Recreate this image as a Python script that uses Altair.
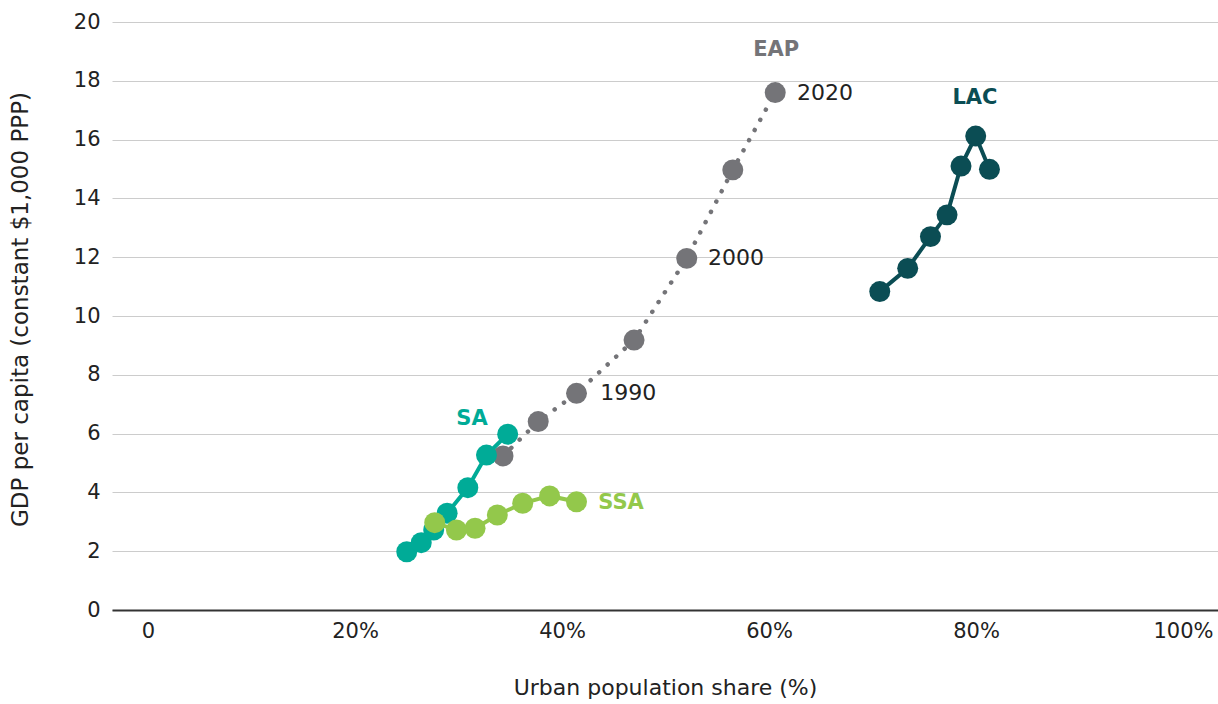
import altair as alt
import pandas as pd

# ---- data ----
sa_x = [25.0, 26.4, 27.6, 28.9, 30.9, 32.7, 34.75]
sa_y = [1.98, 2.29, 2.72, 3.29, 4.16, 5.27, 5.98]

ssa_x = [27.7, 29.8, 31.6, 33.75, 36.2, 38.8, 41.4]
ssa_y = [2.97, 2.72, 2.78, 3.23, 3.63, 3.88, 3.68]

eap_x = [34.3, 37.7, 41.4, 46.96, 52.05, 56.5, 60.6]
eap_y = [5.24, 6.41, 7.37, 9.18, 11.96, 14.97, 17.6]

lac_x = [70.7, 73.4, 75.6, 77.2, 78.55, 79.97, 81.3]
lac_y = [10.83, 11.62, 12.70, 13.44, 15.10, 16.12, 14.99]

series_names = ["EAP", "SA", "SSA", "LAC"]
series_colors = ["#747478", "#00AB97", "#93C84B", "#0B4D54"]

# series labels (data coordinates)
lab_text = ["EAP", "LAC", "SA"]
lab_x = [60.7, 79.9, 31.3]
lab_y = [19.05, 17.4, 6.5]
ssa_lab_x = [43.5]
ssa_lab_y = [3.64]

year_text = ["1990", "2000", "2020"]
year_x = [43.7, 54.1, 62.7]
year_y = [7.38, 11.97, 17.6]

x_ticks = [0, 20, 40, 60, 80, 100]
y_ticks = [0, 2, 4, 6, 8, 10, 12, 14, 16, 18, 20]

FONT = "DejaVu Sans"

def frame(name, xs, ys):
    return pd.DataFrame({"series": name, "x": xs, "y": ys, "i": list(range(len(xs)))})

xs = alt.Scale(domain=[-3.48, 103.38], nice=False, zero=False)
ys = alt.Scale(domain=[0, 20], nice=False)

X = alt.X("x:Q", scale=xs, axis=alt.Axis(
    values=x_ticks, title="Urban population share (%)",
    labelExpr="datum.value == 0 ? '0' : datum.value + '%'",
    grid=False, ticks=False, domain=True, domainColor="#333333", domainWidth=2,
    labelFont=FONT, labelFontSize=21, labelColor="#222222", labelPadding=10,
    titleFont=FONT, titleFontSize=22, titleFontWeight="normal", titleColor="#222222",
    titlePadding=36))
Y = alt.Y("y:Q", scale=ys, axis=alt.Axis(
    values=y_ticks, title="GDP per capita (constant $1,000 PPP)",
    grid=True, gridColor="#CCCCCC", gridWidth=1, ticks=False, domain=False,
    labelFont=FONT, labelFontSize=21, labelColor="#222222", labelPadding=12,
    titleFont=FONT, titleFontSize=23, titleFontWeight="normal", titleColor="#222222",
    titlePadding=41, titleY=287))

layers = []
def series_layer(df, color, dotted=False):
    base = alt.Chart(df)
    if dotted:
        line = base.mark_line(color=color, strokeWidth=4.5, strokeDash=[0.1, 11.5],
                              strokeCap="round")
    else:
        line = base.mark_line(color=color, strokeWidth=4)
    line = line.encode(x=X, y=Y, order="i:O")
    pts = base.mark_circle(color=color, opacity=1, size=440).encode(
        x=alt.X("x:Q", scale=xs), y=alt.Y("y:Q", scale=ys))
    return [line, pts]

layers += series_layer(frame("EAP", eap_x, eap_y), series_colors[0], dotted=True)
layers += series_layer(frame("SA", sa_x, sa_y), series_colors[1])
layers += series_layer(frame("SSA", ssa_x, ssa_y), series_colors[2])
layers += series_layer(frame("LAC", lac_x, lac_y), series_colors[3])

lab_df = pd.DataFrame({"t": lab_text, "x": lab_x, "y": lab_y,
                       "c": [series_colors[0], series_colors[3], series_colors[1]]})
layers.append(alt.Chart(lab_df).mark_text(font=FONT, fontSize=21, fontWeight="bold",
                                          align="center", baseline="middle").encode(
    x=alt.X("x:Q", scale=xs), y=alt.Y("y:Q", scale=ys), text="t:N",
    color=alt.Color("c:N", scale=None)))

ssa_df = pd.DataFrame({"t": ["SSA"], "x": ssa_lab_x, "y": ssa_lab_y})
layers.append(alt.Chart(ssa_df).mark_text(font=FONT, fontSize=21, fontWeight="bold",
                                          align="left", baseline="middle",
                                          color=series_colors[2]).encode(
    x=alt.X("x:Q", scale=xs), y=alt.Y("y:Q", scale=ys), text="t:N"))

yr_df = pd.DataFrame({"t": year_text, "x": year_x, "y": year_y})
layers.append(alt.Chart(yr_df).mark_text(font=FONT, fontSize=22, align="left",
                                         baseline="middle", color="#222222").encode(
    x=alt.X("x:Q", scale=xs), y=alt.Y("y:Q", scale=ys), text="t:N"))

chart = alt.layer(*layers).properties(
    width=1106, height=588,
    autosize=alt.AutoSizeParams(type="none"),
    padding={"left": 112, "top": 22, "right": 0, "bottom": 94},
    background="white",
).configure_view(stroke=None)

chart.save("out.html", embed_options={"renderer": "svg", "actions": False})
